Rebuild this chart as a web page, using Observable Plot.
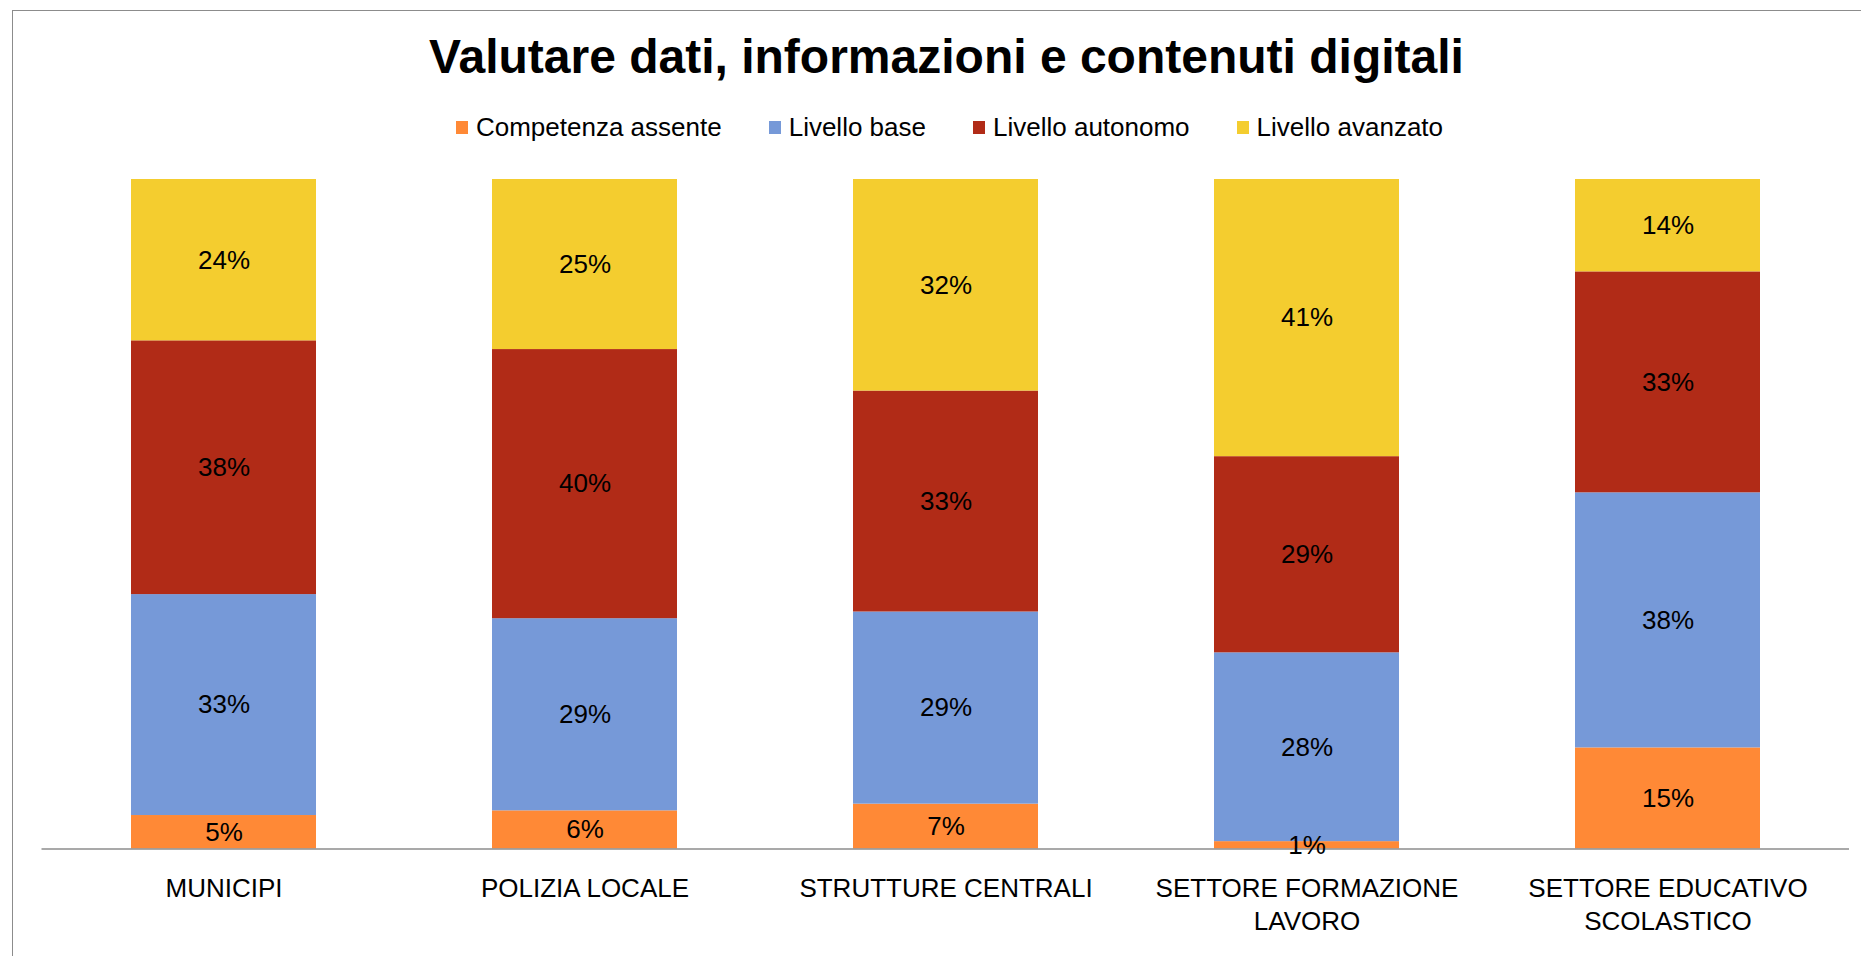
<!DOCTYPE html>
<html>
<head>
<meta charset="utf-8">
<script src="https://cdn.jsdelivr.net/npm/d3@7"></script>
<script src="https://cdn.jsdelivr.net/npm/@observablehq/plot@0.6"></script>
<style>
  html, body { margin: 0; padding: 0; background: #fff; }
  body { width: 1861px; height: 956px; position: relative; overflow: hidden; font-family: "Liberation Sans", Arial, sans-serif; }
  #frame { position: absolute; left: 12px; top: 10px; width: 1900px; height: 1000px; border-left: 1.5px solid #8c8c8c; border-top: 1.5px solid #8c8c8c; }
  #title { position: absolute; left: 16px; top: 32.5px; width: 1861px; text-align: center; font-size: 48px; line-height: 48px; font-weight: bold; color: #000; }
  #legend { position: absolute; left: 0; top: 114px; width: 1861px; display: flex; justify-content: center; padding-left: 38px; box-sizing: border-box; font-size: 26px; line-height: 26px; color: #000; }
  .item { display: flex; align-items: center; margin: 0 23.5px; }
  .sw { width: 12px; height: 13px; margin-right: 8px; }
  #chart { position: absolute; left: 0; top: 160px; }
</style>
</head>
<body>
<div id="frame"></div>
<div id="title">Valutare dati, informazioni e contenuti digitali</div>
<div id="legend"></div>
<div id="chart"></div>
<script>
const categories = ["MUNICIPI", "POLIZIA LOCALE", "STRUTTURE CENTRALI", "SETTORE FORMAZIONE\nLAVORO", "SETTORE EDUCATIVO\nSCOLASTICO"];
const seriesNames = ["Competenza assente", "Livello base", "Livello autonomo", "Livello avanzato"];
const seriesColors = ["#FF8936", "#7699D8", "#B12B17", "#F4CD2F"];
const competenzaAssente = [5.0, 5.7, 6.7, 1.1, 15.1];
const livelloBase = [33.0, 28.7, 28.7, 28.2, 38.1];
const livelloAutonomo = [37.9, 40.2, 33.0, 29.3, 33.0];
const livelloAvanzato = [24.1, 25.4, 31.6, 41.4, 13.8];

const seriesValues = [competenzaAssente, livelloBase, livelloAutonomo, livelloAvanzato];
const data = [];
seriesNames.forEach((s, si) => {
  categories.forEach((c, ci) => {
    data.push({category: c, series: s, value: seriesValues[si][ci]});
  });
});

// legend
const legend = document.getElementById("legend");
seriesNames.forEach((s, i) => {
  const it = document.createElement("div");
  it.className = "item";
  const sw = document.createElement("span");
  sw.className = "sw";
  sw.style.background = seriesColors[i];
  const t = document.createElement("span");
  t.textContent = s;
  it.appendChild(sw);
  it.appendChild(t);
  legend.appendChild(it);
});

const chart = Plot.plot({
  width: 1861,
  height: 796,
  marginTop: 19,
  marginBottom: 107.5,
  marginLeft: 41.5,
  marginRight: 12,
  style: {fontFamily: "Liberation Sans, Arial, sans-serif", fontSize: "26px", color: "#000", background: "transparent"},
  x: {domain: categories, paddingInner: 0.488, paddingOuter: 0.244, label: null},
  y: {domain: [0, 1], axis: null},
  color: {domain: seriesNames, range: seriesColors},
  marks: [
    Plot.barY(data, Plot.stackY({x: "category", y: "value", z: "series", fill: "series", offset: "normalize", order: seriesNames})),
    Plot.ruleY([0], {stroke: "#8c8c8c", strokeWidth: 1.5}),
    Plot.text(data, Plot.stackY({x: "category", y: "value", z: "series", offset: "normalize", order: seriesNames, text: d => Math.round(d.value) + "%", fill: "#000", fontSize: 26})),
    Plot.axisX({tickSize: 0, tickPadding: 25, fontSize: 26, lineHeight: 1.25, fill: "#000", label: null})
  ]
});
document.getElementById("chart").appendChild(chart);
</script>
</body>
</html>
